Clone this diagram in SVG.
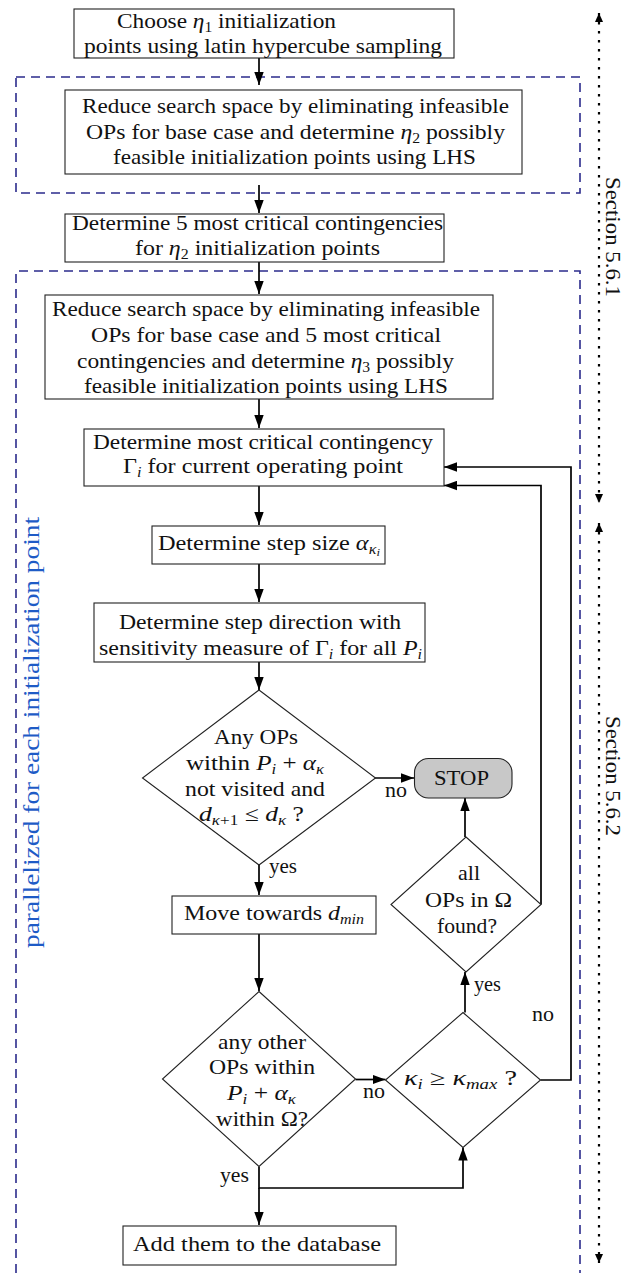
<svg xmlns="http://www.w3.org/2000/svg" width="624" height="1273" viewBox="0 0 624 1273">
  <style>
    .box { fill: #ffffff; stroke: #222222; stroke-width: 1.1; }
    .stop { fill: #c8c8c8; stroke: #222222; stroke-width: 1.1; }
    .t { font-family: 'Liberation Serif', 'DejaVu Serif', serif; font-size: 21px; fill: #111111; }
    .lbl { font-family: 'Liberation Serif', 'DejaVu Serif', serif; font-size: 20px; fill: #111111; }
    .it { font-style: italic; }
    .sub { font-size: 14px; }
    .subsub { font-size: 11px; }
    .conn { fill: none; stroke: #000000; stroke-width: 1.7; }
    .frame { fill: none; stroke: #2b2b8c; stroke-width: 1.6; stroke-dasharray: 9 6; }
    .dots { fill: none; stroke: #000000; stroke-width: 2.2; stroke-dasharray: 2.4 6.6; }
    .blue { font-family: 'Liberation Serif', 'DejaVu Serif', serif; font-size: 24px; fill: #1e5bc6; }
  </style>
  <defs>
    <marker id="ah" markerUnits="userSpaceOnUse" markerWidth="13" markerHeight="10" refX="13" refY="5" orient="auto">
      <path d="M0,0.3 L13,5 L0,9.7 z" fill="#000000"/>
    </marker>
    <marker id="ahs" markerUnits="userSpaceOnUse" markerWidth="9" markerHeight="8" refX="9" refY="4" orient="auto-start-reverse">
      <path d="M0,0 L9,4 L0,8 z" fill="#000000"/>
    </marker>
  </defs>

  <!-- dashed grouping frames -->
  <g id="frames">
    <rect class="frame" x="16" y="77" width="564" height="116"/>
    <path class="frame" d="M16,1273 V271 H580 V1273"/>
  </g>

  <!-- section ranges on the right -->
  <g id="sections">
    <path class="dots" d="M599,13 V503" marker-start="url(#ahs)" marker-end="url(#ahs)"/>
    <path class="dots" d="M599,523 V1263" marker-start="url(#ahs)" marker-end="url(#ahs)"/>
    <text class="t" transform="translate(606,177) rotate(90)" x="0" y="0" textLength="120" lengthAdjust="spacingAndGlyphs">Section 5.6.1</text>
    <text class="t" transform="translate(606,716) rotate(90)" x="0" y="0" textLength="120" lengthAdjust="spacingAndGlyphs">Section 5.6.2</text>
  </g>

  <!-- parallel region caption -->
  <text id="parallel-caption" class="blue" transform="translate(39,948) rotate(-90)" x="0" y="0" textLength="431" lengthAdjust="spacingAndGlyphs">parallelized for each initialization point</text>

  <!-- connectors -->
  <g id="connectors">
    <path class="conn" d="M259,58 V85" marker-end="url(#ah)"/>
    <path class="conn" d="M259,185 V213" marker-end="url(#ah)"/>
    <path class="conn" d="M259,262 V294" marker-end="url(#ah)"/>
    <path class="conn" d="M259,399 V428" marker-end="url(#ah)"/>
    <path class="conn" d="M259,486 V525" marker-end="url(#ah)"/>
    <path class="conn" d="M259,564 V602" marker-end="url(#ah)"/>
    <path class="conn" d="M259,662 V690" marker-end="url(#ah)"/>
    <path class="conn" d="M375,778 H414" marker-end="url(#ah)"/>
    <path class="conn" d="M259,865 V895" marker-end="url(#ah)"/>
    <path class="conn" d="M259,934 V991" marker-end="url(#ah)"/>
    <path class="conn" d="M355.5,1079.5 H385.5" marker-end="url(#ah)"/>
    <path class="conn" d="M259,1166.5 V1188 H463 V1147.5" marker-end="url(#ah)"/>
    <path class="conn" d="M259,1188 V1225" marker-end="url(#ah)"/>
    <path class="conn" d="M465,1012.5 V972" marker-end="url(#ah)"/>
    <path class="conn" d="M465,837 V798" marker-end="url(#ah)"/>
    <path class="conn" d="M541,904.5 V485.5 H444" marker-end="url(#ah)"/>
    <path class="conn" d="M540.5,1080 H571 V467 H444" marker-end="url(#ah)"/>
    <text class="lbl" x="385" y="796.5" textLength="22" lengthAdjust="spacingAndGlyphs">no</text>
    <text class="lbl" x="269" y="872.5" textLength="28" lengthAdjust="spacingAndGlyphs">yes</text>
    <text class="lbl" x="474" y="990.5" textLength="27" lengthAdjust="spacingAndGlyphs">yes</text>
    <text class="lbl" x="532" y="1020.5" textLength="22" lengthAdjust="spacingAndGlyphs">no</text>
    <text class="lbl" x="363" y="1097.5" textLength="22" lengthAdjust="spacingAndGlyphs">no</text>
    <text class="lbl" x="220" y="1181.5" textLength="29" lengthAdjust="spacingAndGlyphs">yes</text>
  </g>

  <g id="init-sampling">
    <rect class="box" x="74" y="9" width="380" height="49"/>
    <text class="t" x="117" y="28" textLength="219" lengthAdjust="spacingAndGlyphs">Choose <tspan class="it">η</tspan><tspan class="sub" dy="4">1</tspan><tspan dy="-4"> initialization</tspan></text>
    <text class="t" x="84" y="53" textLength="358" lengthAdjust="spacingAndGlyphs">points using latin hypercube sampling</text>
  </g>

  <g id="reduce-base">
    <rect class="box" x="65" y="90" width="457" height="84"/>
    <text class="t" x="82" y="112.5" textLength="427" lengthAdjust="spacingAndGlyphs">Reduce search space by eliminating infeasible</text>
    <text class="t" x="86" y="138.5" textLength="419" lengthAdjust="spacingAndGlyphs">OPs for base case and determine <tspan class="it">η</tspan><tspan class="sub" dy="4">2</tspan><tspan dy="-4"> possibly</tspan></text>
    <text class="t" x="113" y="163.5" textLength="363" lengthAdjust="spacingAndGlyphs">feasible initialization points using LHS</text>
  </g>

  <g id="critical-five">
    <rect class="box" x="65" y="214" width="379" height="48"/>
    <text class="t" x="72" y="229.5" textLength="371" lengthAdjust="spacingAndGlyphs">Determine 5 most critical contingencies</text>
    <text class="t" x="135" y="254.5" textLength="245" lengthAdjust="spacingAndGlyphs">for <tspan class="it">η</tspan><tspan class="sub" dy="4">2</tspan><tspan dy="-4"> initialization points</tspan></text>
  </g>

  <g id="reduce-contingencies">
    <rect class="box" x="45" y="295" width="448" height="104"/>
    <text class="t" x="52" y="315.5" textLength="428" lengthAdjust="spacingAndGlyphs">Reduce search space by eliminating infeasible</text>
    <text class="t" x="91" y="341.5" textLength="350" lengthAdjust="spacingAndGlyphs">OPs for base case and 5 most critical</text>
    <text class="t" x="77" y="367.5" textLength="377" lengthAdjust="spacingAndGlyphs">contingencies and determine <tspan class="it">η</tspan><tspan class="sub" dy="4">3</tspan><tspan dy="-4"> possibly</tspan></text>
    <text class="t" x="84" y="392.5" textLength="364" lengthAdjust="spacingAndGlyphs">feasible initialization points using LHS</text>
  </g>

  <g id="critical-current">
    <rect class="box" x="84" y="429" width="360" height="57"/>
    <text class="t" x="93" y="448.5" textLength="340" lengthAdjust="spacingAndGlyphs">Determine most critical contingency</text>
    <text class="t" x="123" y="472.5" textLength="280" lengthAdjust="spacingAndGlyphs">Γ<tspan class="sub it" dy="4">i</tspan><tspan dy="-4"> for current operating point</tspan></text>
  </g>

  <g id="step-size">
    <rect class="box" x="152" y="526" width="233" height="38"/>
    <text class="t" x="158" y="549.5" textLength="222" lengthAdjust="spacingAndGlyphs">Determine step size <tspan class="it">α</tspan><tspan class="sub it" dy="4">κ</tspan><tspan class="subsub it" dy="2">i</tspan></text>
  </g>

  <g id="step-direction">
    <rect class="box" x="94" y="603" width="331" height="59"/>
    <text class="t" x="119" y="628.5" textLength="282" lengthAdjust="spacingAndGlyphs">Determine step direction with</text>
    <text class="t" x="99" y="654.5" textLength="323" lengthAdjust="spacingAndGlyphs">sensitivity measure of Γ<tspan class="sub it" dy="4">i</tspan><tspan dy="-4"> for all </tspan><tspan class="it">P</tspan><tspan class="sub it" dy="4">i</tspan></text>
  </g>

  <g id="any-ops">
    <polygon class="box" points="259,690 375.5,778 259,865 142.5,778"/>
    <text class="t" x="214" y="743.5" textLength="84" lengthAdjust="spacingAndGlyphs">Any OPs</text>
    <text class="t" x="186" y="769.5" textLength="138" lengthAdjust="spacingAndGlyphs">within <tspan class="it">P</tspan><tspan class="sub it" dy="4">i</tspan><tspan dy="-4"> + </tspan><tspan class="it">α</tspan><tspan class="sub it" dy="4">κ</tspan></text>
    <text class="t" x="185" y="795.5" textLength="140" lengthAdjust="spacingAndGlyphs">not visited and</text>
    <text class="t" x="199" y="821" textLength="105" lengthAdjust="spacingAndGlyphs"><tspan class="it">d</tspan><tspan class="sub it" dy="4">κ</tspan><tspan class="sub">+1</tspan><tspan dy="-4"> ≤ </tspan><tspan class="it">d</tspan><tspan class="sub it" dy="4">κ</tspan><tspan dy="-4"> ?</tspan></text>
  </g>

  <g id="stop">
    <rect class="stop" x="414.5" y="758.5" width="97.5" height="39.5" rx="14" ry="14"/>
    <text class="t" x="434" y="785" textLength="55" lengthAdjust="spacingAndGlyphs">STOP</text>
  </g>

  <g id="move">
    <rect class="box" x="172" y="896" width="204" height="38"/>
    <text class="t" x="184" y="919.5" textLength="180" lengthAdjust="spacingAndGlyphs">Move towards <tspan class="it">d</tspan><tspan class="sub it" dy="4">min</tspan></text>
  </g>

  <g id="all-found">
    <polygon class="box" points="466,837 541,904.5 466,972 391,904.5"/>
    <text class="t" x="458" y="880" textLength="22" lengthAdjust="spacingAndGlyphs">all</text>
    <text class="t" x="425" y="906.5" textLength="87" lengthAdjust="spacingAndGlyphs">OPs in Ω</text>
    <text class="t" x="437" y="932.5" textLength="60" lengthAdjust="spacingAndGlyphs">found?</text>
  </g>

  <g id="other-ops">
    <polygon class="box" points="259,991.5 355.5,1079 259,1166.5 162.5,1079"/>
    <text class="t" x="218" y="1048.5" textLength="88" lengthAdjust="spacingAndGlyphs">any other</text>
    <text class="t" x="209" y="1073.5" textLength="106" lengthAdjust="spacingAndGlyphs">OPs within</text>
    <text class="t" x="227" y="1100" textLength="69" lengthAdjust="spacingAndGlyphs"><tspan class="it">P</tspan><tspan class="sub it" dy="4">i</tspan><tspan dy="-4"> + </tspan><tspan class="it">α</tspan><tspan class="sub it" dy="4">κ</tspan></text>
    <text class="t" x="216" y="1125.5" textLength="92" lengthAdjust="spacingAndGlyphs">within Ω?</text>
  </g>

  <g id="kappa-max">
    <polygon class="box" points="463,1012.5 540.5,1080 463,1147.5 385.5,1080"/>
    <text class="t" x="404" y="1085" textLength="113" lengthAdjust="spacingAndGlyphs"><tspan class="it">κ</tspan><tspan class="sub it" dy="4">i</tspan><tspan dy="-4"> ≥ </tspan><tspan class="it">κ</tspan><tspan class="sub it" dy="4">max</tspan><tspan dy="-4"> ?</tspan></text>
  </g>

  <g id="add-database">
    <rect class="box" x="123" y="1226" width="273" height="39"/>
    <text class="t" x="133" y="1250.5" textLength="248" lengthAdjust="spacingAndGlyphs">Add them to the database</text>
  </g>
</svg>
